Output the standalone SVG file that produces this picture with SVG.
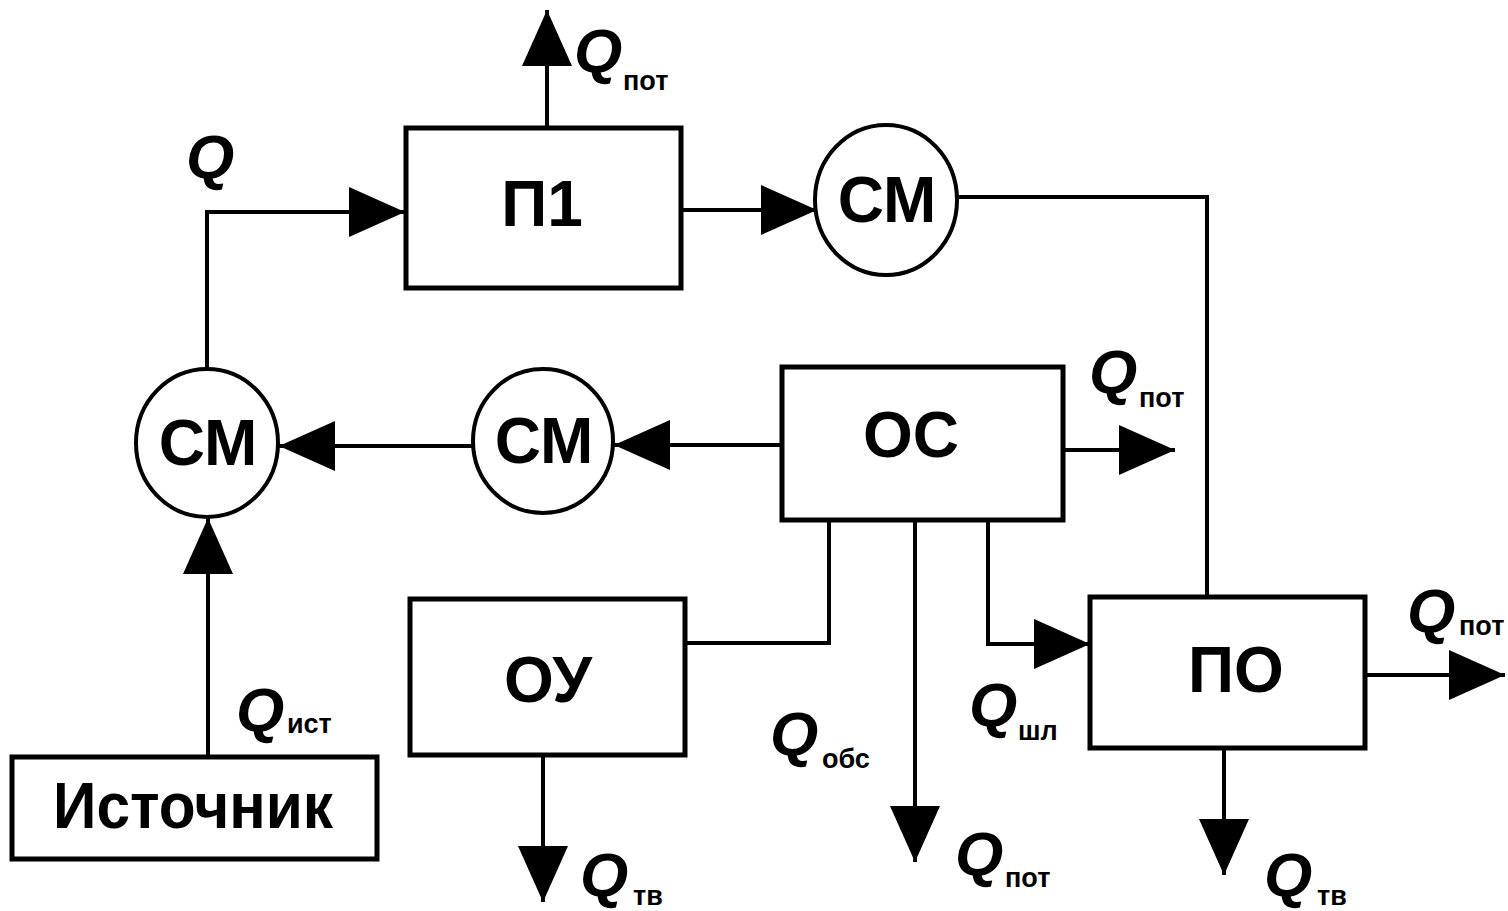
<svg xmlns="http://www.w3.org/2000/svg" width="1508" height="911" viewBox="0 0 1508 911">
<style>
.box{fill:#fff;stroke:#000;stroke-width:5}
.cir{fill:#fff;stroke:#000;stroke-width:4}
.lbl{font-family:"Liberation Sans",Arial,sans-serif;font-weight:bold;font-size:64px;fill:#000;text-anchor:middle}
.q{font-family:"Liberation Sans",Arial,sans-serif;font-weight:bold;font-style:italic;font-size:62px;fill:#000}
.s{font-family:"Liberation Sans",Arial,sans-serif;font-weight:bold;font-size:27px;fill:#000}
.ln{fill:none;stroke:#000;stroke-width:4}
.ar{marker-end:url(#arr)}
</style>
<defs>
<marker id="arr" viewBox="0 0 56 50" refX="56" refY="25" markerWidth="56" markerHeight="50" markerUnits="userSpaceOnUse" orient="auto">
<path d="M0,0 L56,25 L0,50 Z" fill="#000"/>
</marker>
</defs>
<rect width="1508" height="911" fill="#fff"/>
<g id="connectors">
<path class="ln ar" d="M208,757 V518"/>
<path class="ln ar" d="M207,369 V212 H405"/>
<path class="ln ar" d="M681,210 H817"/>
<path class="ln" d="M957,197 H1207 V597"/>
<path class="ln ar" d="M782,445 H614"/>
<path class="ln ar" d="M473,446 H279"/>
<path class="ln ar" d="M1063,450 H1175"/>
<path class="ln" d="M829,520 V643 H685"/>
<path class="ln ar" d="M915,520 V862"/>
<path class="ln ar" d="M988,520 V644 H1090"/>
<path class="ln ar" d="M547,127 V10"/>
<path class="ln ar" d="M543,755 V902"/>
<path class="ln ar" d="M1365,675 H1505"/>
<path class="ln ar" d="M1224,748 V875"/>
</g>
<g id="P1"><rect class="box" x="406" y="128" width="275" height="160"/><text class="lbl" x="542" y="226">П1</text></g>
<g id="CM_top"><ellipse class="cir" cx="886" cy="200" rx="71" ry="75"/><text class="lbl" x="887" y="222">СМ</text></g>
<g id="CM_left"><ellipse class="cir" cx="207" cy="443" rx="71" ry="74"/><text class="lbl" x="208" y="465">СМ</text></g>
<g id="CM_mid"><ellipse class="cir" cx="543" cy="441" rx="70" ry="72"/><text class="lbl" x="544" y="463">СМ</text></g>
<g id="OC"><rect class="box" x="782" y="367" width="281" height="153"/><text class="lbl" x="911" y="457">ОС</text></g>
<g id="OY"><rect class="box" x="410" y="599" width="275" height="156"/><text class="lbl" x="548" y="702">ОУ</text></g>
<g id="PO"><rect class="box" x="1090" y="597" width="275" height="151"/><text class="lbl" x="1236" y="692">ПО</text></g>
<g id="Source"><rect class="box" x="12" y="757" width="365" height="102"/><text class="lbl" x="193" y="828" textLength="280" lengthAdjust="spacingAndGlyphs">Источник</text></g>
<g id="labels">
<text class="q" x="574" y="72">Q</text><text class="s" x="623" y="90">пот</text>
<text class="q" x="186" y="178">Q</text>
<text class="q" x="1089" y="393">Q</text><text class="s" x="1139" y="407">пот</text>
<text class="q" x="1407" y="632">Q</text><text class="s" x="1459" y="635">пот</text>
<text class="q" x="236" y="731">Q</text><text class="s" x="287" y="733">ист</text>
<text class="q" x="770" y="755">Q</text><text class="s" x="822" y="768">обс</text>
<text class="q" x="969" y="726">Q</text><text class="s" x="1018" y="740">шл</text>
<text class="q" x="955" y="875">Q</text><text class="s" x="1005" y="887">пот</text>
<text class="q" x="580" y="896">Q</text><text class="s" x="633" y="905">тв</text>
<text class="q" x="1264" y="896">Q</text><text class="s" x="1317" y="905">тв</text>
</g>
</svg>
